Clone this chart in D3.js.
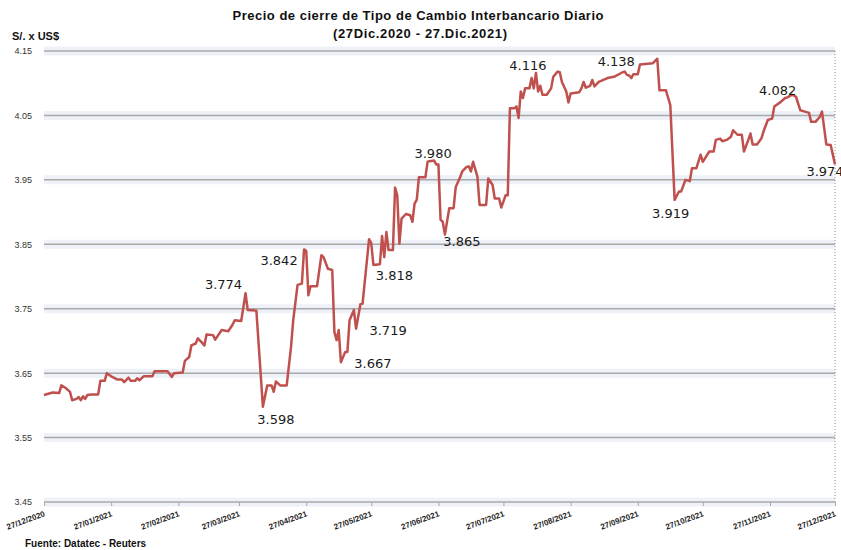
<!DOCTYPE html>
<html>
<head>
<meta charset="utf-8">
<script src="https://cdn.jsdelivr.net/npm/d3@7"></script>
<style>
  body { margin: 0; background: #fff; }
  svg { display: block; }
</style>
</head>
<body>
<div id="chart-area"></div>
<script>
// datos (precio de cierre, S/. por US$)
var fechas = [
  "2020-12-27","2020-12-31","2021-01-03","2021-01-04","2021-01-06","2021-01-08","2021-01-09","2021-01-11",
  "2021-01-12","2021-01-13","2021-01-14","2021-01-15","2021-01-16","2021-01-18","2021-01-21","2021-01-22",
  "2021-01-24","2021-01-25","2021-01-27","2021-01-30","2021-02-01","2021-02-02","2021-02-04","2021-02-05",
  "2021-02-07","2021-02-08","2021-02-09","2021-02-11","2021-02-15","2021-02-16","2021-02-22","2021-02-24",
  "2021-02-25","2021-03-01","2021-03-02","2021-03-04","2021-03-05","2021-03-07","2021-03-08","2021-03-10",
  "2021-03-11","2021-03-12","2021-03-15","2021-03-16","2021-03-19","2021-03-22","2021-03-24","2021-03-25",
  "2021-03-28","2021-03-30","2021-03-31","2021-04-04","2021-04-07","2021-04-09","2021-04-11","2021-04-12",
  "2021-04-13","2021-04-15","2021-04-18","2021-04-20","2021-04-21","2021-04-23","2021-04-25","2021-04-26",
  "2021-04-27","2021-04-28","2021-04-29","2021-05-02","2021-05-04","2021-05-05","2021-05-07","2021-05-09",
  "2021-05-10","2021-05-11","2021-05-12","2021-05-13","2021-05-15","2021-05-16","2021-05-17","2021-05-19",
  "2021-05-20","2021-05-22","2021-05-23","2021-05-26","2021-05-27","2021-05-28","2021-05-31","2021-06-01",
  "2021-06-02","2021-06-03","2021-06-04","2021-06-06","2021-06-07","2021-06-08","2021-06-09","2021-06-10",
  "2021-06-12","2021-06-14","2021-06-15","2021-06-16","2021-06-17","2021-06-18","2021-06-21","2021-06-22",
  "2021-06-23","2021-06-25","2021-06-26","2021-06-27","2021-06-28","2021-06-29","2021-06-30","2021-07-02",
  "2021-07-04","2021-07-05","2021-07-07","2021-07-08","2021-07-10","2021-07-11","2021-07-12","2021-07-13",
  "2021-07-15","2021-07-16","2021-07-19","2021-07-20","2021-07-22","2021-07-23","2021-07-25","2021-07-26",
  "2021-07-28","2021-07-29","2021-07-30","2021-08-01","2021-08-02","2021-08-03","2021-08-04","2021-08-05",
  "2021-08-06","2021-08-08","2021-08-09","2021-08-10","2021-08-11","2021-08-12","2021-08-13","2021-08-14",
  "2021-08-16","2021-08-18","2021-08-19","2021-08-21","2021-08-22","2021-08-23","2021-08-25","2021-08-26",
  "2021-08-27","2021-08-31","2021-09-01","2021-09-02","2021-09-03","2021-09-05","2021-09-06","2021-09-07",
  "2021-09-09","2021-09-13","2021-09-16","2021-09-20","2021-09-21","2021-09-22","2021-09-23","2021-09-24",
  "2021-09-25","2021-09-27","2021-09-28","2021-10-04","2021-10-06","2021-10-07","2021-10-10","2021-10-12",
  "2021-10-14","2021-10-16","2021-10-17","2021-10-19","2021-10-21","2021-10-22","2021-10-24","2021-10-26",
  "2021-10-27","2021-10-30","2021-11-01","2021-11-02","2021-11-04","2021-11-05","2021-11-07","2021-11-09",
  "2021-11-10","2021-11-12","2021-11-14","2021-11-15","2021-11-17","2021-11-18","2021-11-19","2021-11-21",
  "2021-11-23","2021-11-24","2021-11-26","2021-11-28","2021-11-29","2021-12-02","2021-12-04","2021-12-05",
  "2021-12-07","2021-12-08","2021-12-09","2021-12-11","2021-12-12","2021-12-15","2021-12-16","2021-12-18",
  "2021-12-20","2021-12-21","2021-12-23","2021-12-25","2021-12-27"
];
var valores = [
  3.616,3.620,3.619,3.631,3.627,3.621,3.608,3.610,
  3.613,3.608,3.614,3.610,3.616,3.617,3.617,3.638,
  3.638,3.650,3.645,3.640,3.640,3.636,3.643,3.638,
  3.638,3.642,3.639,3.645,3.645,3.653,3.653,3.644,
  3.650,3.651,3.669,3.675,3.693,3.696,3.704,3.697,
  3.693,3.710,3.709,3.702,3.717,3.715,3.725,3.732,
  3.731,3.774,3.748,3.747,3.598,3.631,3.631,3.621,
  3.637,3.631,3.631,3.691,3.732,3.787,3.789,3.842,
  3.840,3.771,3.785,3.785,3.833,3.830,3.812,3.810,
  3.714,3.701,3.717,3.667,3.683,3.683,3.732,3.748,
  3.719,3.757,3.758,3.858,3.852,3.818,3.819,3.863,
  3.830,3.869,3.841,3.841,3.938,3.926,3.851,3.890,
  3.897,3.895,3.885,3.913,3.919,3.954,3.954,3.978,
  3.979,3.980,3.974,3.974,3.888,3.885,3.865,3.906,
  3.906,3.939,3.954,3.963,3.970,3.971,3.963,3.978,
  3.955,3.911,3.911,3.952,3.942,3.921,3.921,3.907,
  3.926,3.926,4.061,4.061,4.064,4.046,4.087,4.077,
  4.092,4.092,4.108,4.092,4.116,4.087,4.096,4.082,
  4.082,4.092,4.110,4.118,4.117,4.102,4.087,4.070,
  4.084,4.086,4.092,4.102,4.093,4.096,4.105,4.095,
  4.102,4.108,4.110,4.117,4.118,4.113,4.112,4.108,
  4.114,4.114,4.129,4.131,4.138,4.089,4.089,4.066,
  3.919,3.932,3.932,3.950,3.948,3.968,3.968,3.989,
  3.978,3.994,3.994,4.012,4.014,4.010,4.012,4.017,
  4.027,4.020,4.020,3.994,4.012,4.022,4.005,4.005,
  4.014,4.025,4.043,4.045,4.064,4.071,4.077,4.078,
  4.082,4.081,4.079,4.058,4.057,4.054,4.040,4.040,
  4.048,4.056,4.005,4.004,3.974
];
// puntos con etiqueta de valor
var fechasEtiqueta = ["2021-03-30","2021-04-07","2021-04-26","2021-05-13","2021-05-20","2021-05-28",
  "2021-06-25","2021-06-30","2021-08-11","2021-10-06","2021-10-14","2021-12-07","2021-12-27"];
var ticksX = ["2020-12-27","2021-01-27","2021-02-27","2021-03-27","2021-04-27","2021-05-27","2021-06-27",
  "2021-07-27","2021-08-27","2021-09-27","2021-10-27","2021-11-27","2021-12-27"];
var ticksY = [3.45,3.55,3.65,3.75,3.85,3.95,4.05,4.15];

var width = 841, height = 550;
var margin = {left: 44, right: 835, top: 51, bottom: 502};

var parse = d3.timeParse("%Y-%m-%d");
var fmtTick = d3.timeFormat("%d/%m/%Y");

var data = fechas.map(function(f, i) { return {fecha: parse(f), valor: valores[i]}; });

var svg = d3.select("#chart-area").append("svg")
  .attr("width", width)
  .attr("height", height);

var x = d3.scaleTime()
  .domain([parse(ticksX[0]), parse(ticksX[ticksX.length - 1])])
  .range([margin.left, margin.right]);

var y = d3.scaleLinear()
  .domain([3.45, 4.15])
  .range([margin.bottom, margin.top]);

// bandas suaves detras de las lineas de division
svg.append("g").selectAll("line").data(ticksY).enter().append("line")
  .attr("x1", margin.left).attr("x2", margin.right)
  .attr("y1", function(d) { return y(d); }).attr("y2", function(d) { return y(d); })
  .attr("stroke", "#eef1f8").attr("stroke-width", 9);

svg.append("g").selectAll("line").data(ticksY).enter().append("line")
  .attr("x1", margin.left).attr("x2", margin.right)
  .attr("y1", function(d) { return y(d); }).attr("y2", function(d) { return y(d); })
  .attr("stroke", "#a9a9a9").attr("stroke-width", 1.5);

// borde derecho punteado
svg.append("line")
  .attr("x1", margin.right).attr("x2", margin.right)
  .attr("y1", margin.top).attr("y2", margin.bottom)
  .attr("stroke", "#8c8c8c").attr("stroke-width", 1)
  .attr("stroke-dasharray", "1,2");

// eje y
var leftAxis = d3.axisLeft(y).tickValues(ticksY).tickFormat(d3.format(".2f")).tickSize(0).tickPadding(12);
svg.append("g")
  .attr("class", "left axis")
  .attr("transform", "translate(" + margin.left + ",0)")
  .call(leftAxis)
  .call(function(g) { g.select(".domain").remove(); })
  .selectAll("text")
  .attr("font-family", "Liberation Sans, Arial, sans-serif")
  .attr("font-size", "9px")
  .attr("fill", "#333");

// eje x
var bottomAxis = d3.axisBottom(x)
  .tickValues(ticksX.map(parse))
  .tickFormat(fmtTick)
  .tickSize(4)
  .tickSizeOuter(0);
svg.append("g")
  .attr("class", "bottom axis")
  .attr("transform", "translate(0," + margin.bottom + ")")
  .call(bottomAxis)
  .call(function(g) {
    g.select(".domain").remove();
    g.selectAll(".tick line").attr("stroke", "#a9a9a9");
  })
  .selectAll("text")
  .attr("font-family", "Liberation Sans, Arial, sans-serif")
  .attr("font-weight", "bold")
  .attr("font-size", "8px")
  .attr("fill", "#222")
  .attr("text-anchor", "end")
  .attr("x", 0).attr("y", 0).attr("dy", 0)
  .attr("transform", "translate(1,14) rotate(-20)");

// linea de precios
var line = d3.line()
  .x(function(d) { return x(d.fecha); })
  .y(function(d) { return y(d.valor); });

svg.append("path")
  .datum(data)
  .attr("fill", "none")
  .attr("stroke", "#c0504d")
  .attr("stroke-width", 2.5)
  .attr("stroke-linejoin", "round")
  .attr("d", line);

// etiquetas de valor (desplazamiento respecto al punto)
var desplazamientos = [[-22,-4],[13,17],[-25,16],[32,6],[32,6],[21,15],[-1,-3],[17,11],[-8,-3],[-41,7],[-4,18],[-14,0],[-10,12]];
var puntosEtiqueta = fechasEtiqueta.map(function(f) {
  var t = parse(f).getTime();
  return data.find(function(d) { return d.fecha.getTime() === t; });
});
svg.append("g").selectAll("text").data(puntosEtiqueta).enter().append("text")
  .attr("x", function(d, i) { return x(d.fecha) + desplazamientos[i][0]; })
  .attr("y", function(d, i) { return y(d.valor) + desplazamientos[i][1]; })
  .attr("text-anchor", "middle")
  .attr("font-family", "DejaVu Sans, sans-serif")
  .attr("font-size", "13px")
  .attr("fill", "#1a1a1a")
  .text(function(d) { return d.valor.toFixed(3); });

// titulos
svg.append("text")
  .attr("x", 418).attr("y", 20)
  .attr("text-anchor", "middle")
  .attr("font-family", "Liberation Sans, Arial, sans-serif")
  .attr("font-weight", "bold")
  .attr("font-size", "13px")
  .attr("textLength", 371)
  .attr("lengthAdjust", "spacing")
  .attr("fill", "#111")
  .text("Precio de cierre de Tipo de Cambio Interbancario Diario");

svg.append("text")
  .attr("x", 420).attr("y", 38)
  .attr("text-anchor", "middle")
  .attr("font-family", "Liberation Sans, Arial, sans-serif")
  .attr("font-weight", "bold")
  .attr("font-size", "13px")
  .attr("textLength", 174)
  .attr("lengthAdjust", "spacing")
  .attr("fill", "#111")
  .text("(27Dic.2020 - 27.Dic.2021)");

svg.append("text")
  .attr("x", 12).attr("y", 40)
  .attr("font-family", "Liberation Sans, Arial, sans-serif")
  .attr("font-weight", "bold")
  .attr("font-size", "11px")
  .attr("fill", "#111")
  .text("S/. x US$");

svg.append("text")
  .attr("x", 25).attr("y", 547)
  .attr("font-family", "Liberation Sans, Arial, sans-serif")
  .attr("font-weight", "bold")
  .attr("font-size", "10px")
  .attr("fill", "#111")
  .text("Fuente: Datatec - Reuters");
</script>
</body>
</html>
